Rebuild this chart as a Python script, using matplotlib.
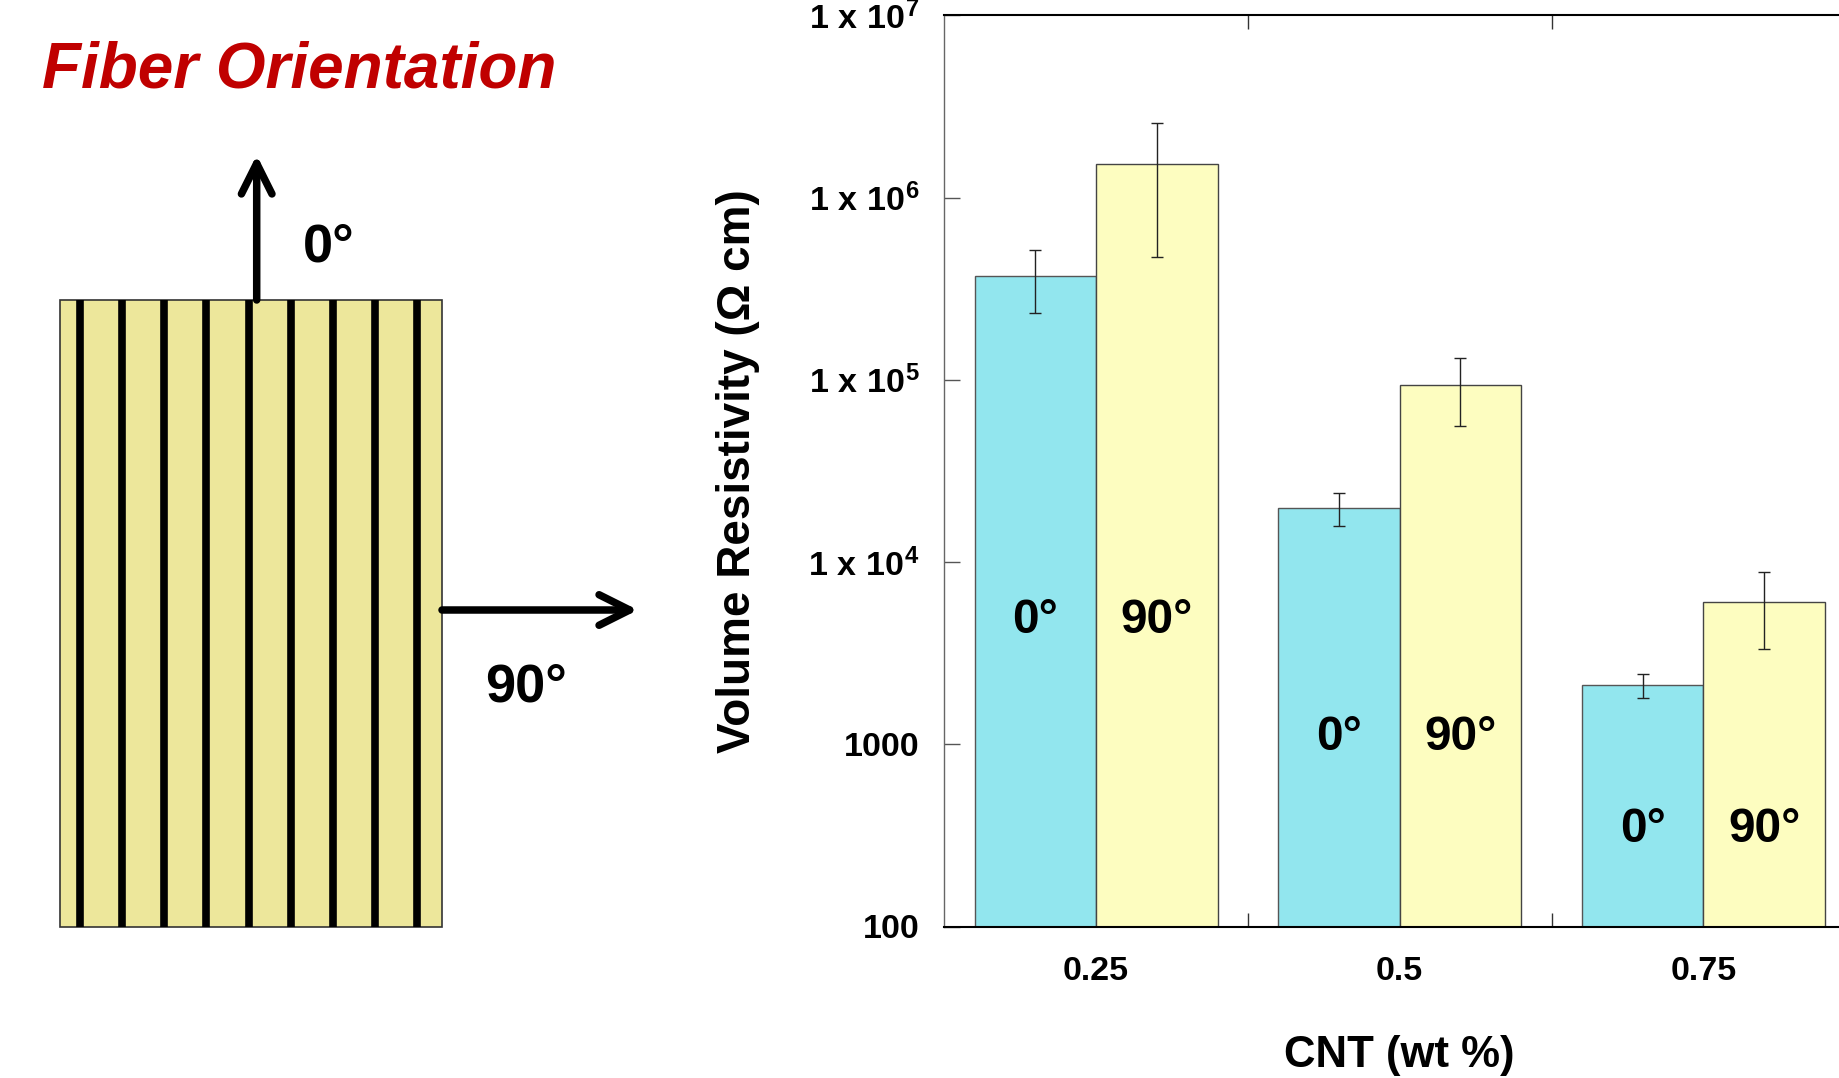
import numpy as np
import matplotlib
matplotlib.use('Agg')
import matplotlib.pyplot as plt
from matplotlib.patches import Rectangle
from matplotlib.ticker import FixedLocator, NullLocator

# fonts: Arial-like bold everywhere
plt.rcParams['font.family'] = ['Liberation Sans', 'DejaVu Sans']
plt.rcParams['font.weight'] = 'bold'
plt.rcParams['axes.labelweight'] = 'bold'
plt.rcParams['mathtext.fontset'] = 'custom'
plt.rcParams['mathtext.rm'] = 'Liberation Sans:bold'
plt.rcParams['mathtext.bf'] = 'Liberation Sans:bold'
plt.rcParams['mathtext.it'] = 'Liberation Sans:bold:italic'

# data
cnt = ['0.25', '0.5', '0.75']
res_0 = [3.73e5, 1.99e4, 2.12e3]      # 0 deg, Ohm cm
err_0 = [1.40e5, 4.1e3, 3.2e2]
res_90 = [1.52e6, 9.4e4, 6.05e3]      # 90 deg
err_90 = [1.05e6, 3.8e4, 2.72e3]
label_y = [4.1e3, 9.3e2, 2.9e2]       # where the 0°/90° texts sit inside the bars
yticks = [1e2, 1e3, 1e4, 1e5, 1e6, 1e7]
ytick_labels = ['100', '1000', r'$\mathrm{1\ x\ 10^{4}}$', r'$\mathrm{1\ x\ 10^{5}}$',
                r'$\mathrm{1\ x\ 10^{6}}$', r'$\mathrm{1\ x\ 10^{7}}$']

W, H = 1840, 1078
fig = plt.figure(figsize=(W / 100, H / 100), dpi=100)

# ---- left panel: fiber orientation sketch (pixel coordinates) ----
ax0 = fig.add_axes([0, 0, 1, 1])
ax0.set_xlim(0, W)
ax0.set_ylim(H, 0)
ax0.axis('off')

rect_x, rect_y, rect_w, rect_h = 60.5, 300, 381.5, 626.5
ax0.add_patch(Rectangle((rect_x, rect_y), rect_w, rect_h, fc='#EDE79B', ec='#333333', lw=1.2))
n_fibers = 9
fib_x = rect_x + rect_w * (0.051 + 0.1105 * np.arange(n_fibers))
ax0.vlines(fib_x, rect_y, rect_y + rect_h, color='black', lw=5.5)

arrow_kw = dict(arrowstyle='->,head_length=2.2,head_width=1.1', lw=5.4, color='black',
                shrinkA=0, shrinkB=0, capstyle='round', joinstyle='round')
ax0.annotate('', xy=(256.7, 155), xytext=(256.7, rect_y), arrowprops=arrow_kw)
ax0.annotate('', xy=(638, 610), xytext=(rect_x + rect_w, 610), arrowprops=arrow_kw)

ax0.text(42, 87, 'Fiber Orientation', fontsize=46, style='italic', color='#C00000',
         ha='left', va='baseline')
ax0.text(303, 262, '0°', fontsize=39, ha='left', va='baseline')
ax0.text(485, 701, '90°', fontsize=39, ha='left', va='baseline')

# ---- right panel: bar chart ----
ax = fig.add_axes([944.3 / W, 1 - 926.5 / H, 910.9 / W, 911.2 / H])
x = np.arange(1, len(cnt) + 1)
bw = 0.4
ekw = dict(ecolor='#222222', elinewidth=1.0, capsize=4, capthick=1.0)
ax.bar(x - bw / 2, res_0, bw, color='#92E6EE', edgecolor='#555555', lw=1.0,
       yerr=err_0, error_kw=ekw)
ax.bar(x + bw / 2, res_90, bw, color='#FDFDC0', edgecolor='#444444', lw=1.0,
       yerr=err_90, error_kw=ekw)
for i in range(len(cnt)):
    ax.text(x[i] - bw / 2, label_y[i], '0°', fontsize=34.5, ha='center', va='baseline')
    ax.text(x[i] + bw / 2, label_y[i], '90°', fontsize=34.5, ha='center', va='baseline')

ax.set_yscale('log')
ax.set_ylim(1e2, 1e7)
ax.set_xlim(0.5, 3.5)

ax.yaxis.set_major_locator(FixedLocator(yticks))
ax.yaxis.set_minor_locator(NullLocator())
ax.set_yticklabels(ytick_labels)
ax.tick_params(axis='y', which='major', direction='in', length=11.5, width=1,
               color='#555555', labelsize=24.5, pad=18, right=True)

ax.set_xticks([1.5, 2.5])
ax.set_xticklabels(['', ''])
ax.set_xticks(x, minor=True)
ax.set_xticklabels(cnt, minor=True)
ax.tick_params(axis='x', which='major', direction='in', length=10, width=1,
               color='#333333', top=True)
ax.tick_params(axis='x', which='minor', length=0, labelsize=24.5, pad=21)

for s in ['top', 'bottom']:
    ax.spines[s].set_linewidth(1.5)
    ax.spines[s].set_color('black')
for s in ['left', 'right']:
    ax.spines[s].set_linewidth(1.0)
    ax.spines[s].set_color('#666666')

ax.set_ylabel('Volume Resistivity (Ω cm)', fontsize=33)
ax.yaxis.set_label_coords(-0.202, 0.5)
ax.set_xlabel('CNT (wt %)', fontsize=31.5)
ax.xaxis.set_label_coords(0.5, -0.119)

fig.savefig('out.png', dpi=100)
